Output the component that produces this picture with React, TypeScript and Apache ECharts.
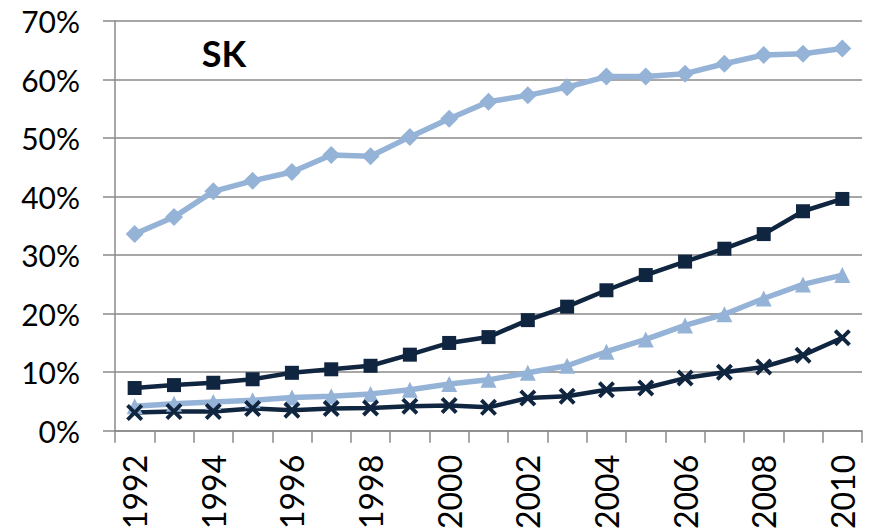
import React, { useEffect, useRef } from "react";
import * as echarts from "echarts";

const years = ["1992","1993","1994","1995","1996","1997","1998","1999","2000","2001","2002","2003","2004","2005","2006","2007","2008","2009","2010"];
const diamondSeries = [33.6,36.5,40.9,42.7,44.2,47.1,46.9,50.2,53.3,56.2,57.3,58.7,60.5,60.5,61.0,62.7,64.2,64.4,65.3];
const squareSeries = [7.3,7.8,8.2,8.8,9.9,10.5,11.1,13.0,15.0,16.0,18.9,21.2,24.0,26.6,28.9,31.1,33.6,37.5,39.6];
const triangleSeries = [4.2,4.6,4.9,5.2,5.7,5.9,6.3,7.0,8.0,8.7,9.9,11.1,13.5,15.6,18.0,19.9,22.6,25.0,26.6];
const crossSeries = [3.1,3.3,3.3,3.8,3.5,3.8,3.9,4.2,4.3,4.0,5.6,5.9,7.0,7.3,9.0,10.0,10.9,12.9,15.9];
const titleText = "SK";

const LIGHT = "#95b3d7";
const NAVY = "#10253f";
const GRAY = "#8a8a8a";
const FONT = "Lato, 'Open Sans', sans-serif";
const CROSS = "path://M0,1.6 L1.6,0 L5,3.4 L8.4,0 L10,1.6 L6.6,5 L10,8.4 L8.4,10 L5,6.6 L1.6,10 L0,8.4 L3.4,5 Z";

export default function App() {
  const ref = useRef<HTMLDivElement>(null);
  useEffect(() => {
    if (!ref.current) return;
    const chart = echarts.init(ref.current, undefined, { renderer: "svg" });
    chart.setOption({
      animation: false,
      backgroundColor: "#ffffff",
      title: {
        text: titleText,
        left: 219,
        top: 30,
        textAlign: "center",
        textStyle: { fontFamily: FONT, fontWeight: "bold", fontSize: 36, color: "#000" },
      },
      grid: { left: 115, right: 12, top: 21, bottom: 99, containLabel: false },
      xAxis: {
        type: "category",
        data: years,
        boundaryGap: true,
        axisLine: { show: true, lineStyle: { color: GRAY, width: 1.5 } },
        axisTick: { show: true, length: 12, interval: 0, lineStyle: { color: GRAY, width: 1.5 } },
        axisLabel: {
          interval: 1,
          rotate: 90,
          margin: 24,
          fontFamily: FONT,
          fontSize: 32,
          color: "#000",
        },
        splitLine: { show: false },
      },
      yAxis: {
        type: "value",
        min: 0,
        max: 70,
        interval: 10,
        axisLine: { show: true, lineStyle: { color: GRAY, width: 1.5 } },
        axisTick: { show: true, length: 12, lineStyle: { color: GRAY, width: 1.5 } },
        axisLabel: {
          margin: 35,
          fontFamily: FONT,
          fontSize: 30,
          color: "#000",
          formatter: (v: number) => `${v}%`,
        },
        splitLine: { show: true, lineStyle: { color: GRAY, width: 1.5 } },
      },
      series: [
        {
          type: "line",
          data: diamondSeries,
          symbol: "diamond",
          symbolSize: 18,
          lineStyle: { color: LIGHT, width: 5.5 },
          itemStyle: { color: LIGHT },
        },
        {
          type: "line",
          data: squareSeries,
          symbol: "rect",
          symbolSize: 14,
          lineStyle: { color: NAVY, width: 4.5 },
          itemStyle: { color: NAVY },
        },
        {
          type: "line",
          data: triangleSeries,
          symbol: "triangle",
          symbolSize: 16,
          lineStyle: { color: LIGHT, width: 5.5 },
          itemStyle: { color: LIGHT },
        },
        {
          type: "line",
          data: crossSeries,
          symbol: CROSS,
          symbolSize: 17,
          lineStyle: { color: NAVY, width: 4.5 },
          itemStyle: { color: NAVY },
        },
      ],
    });
    return () => chart.dispose();
  }, []);
  return (
    <div
      ref={ref}
      style={{ position: "fixed", left: 0, top: 0, width: 874, height: 532, background: "#fff" }}
    />
  );
}
